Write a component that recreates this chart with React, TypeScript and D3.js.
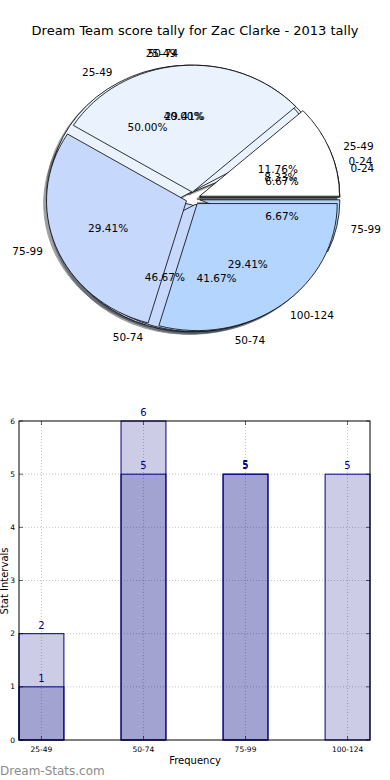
import React from "react";
import * as d3 from "d3";

// pie series (drawn bottom to top: C, B, A)
const pieALabels = ["25-49", "50-74", "75-99", "100-124"];
const pieAValues = [2, 5, 5, 5];
const pieBLabels = ["0-24", "25-49", "50-74"];
const pieBValues = [1, 6, 5];
const pieCLabels = ["0-24", "25-49", "50-74", "75-99"];
const pieCValues = [1, 6, 7, 1];
const pieColors = ["#ffffff", "#eaf2fe", "#c6d9fd", "#b3d5fe"];

// bar series
const barCategories = ["25-49", "50-74", "75-99", "100-124"];
const barSeriesA = [2, 5, 5, 5];
const barSeriesB = [1, 6, 5, 0];
const barTicks = [0, 1, 2, 3, 4, 5, 6];

const font = "'DejaVu Sans', sans-serif";
const navy = "#000080";

// pie geometry (matplotlib-like, unequal aspect)
const cx = 193;
const cy = 198.5;
const rx = 140;
const ry = 127;
const explode = 0.05;

const pieGen = d3
  .pie<number>()
  .sort(null)
  .startAngle(Math.PI / 2)
  .endAngle(Math.PI / 2 - 2 * Math.PI);
const unitArc = d3.arc<d3.PieArcDatum<number>>().innerRadius(0).outerRadius(1);

const layoutPie = (labels: string[], values: number[], key: string) => {
  const total = d3.sum(values);
  return pieGen(values).map((a, i) => {
    const theta = Math.PI / 2 - (a.startAngle + a.endAngle) / 2;
    const ox = cx + explode * rx * Math.cos(theta);
    const oy = cy - explode * ry * Math.sin(theta);
    return {
      key: `${key}-${i}`,
      d: unitArc(a) as string,
      ox,
      oy,
      color: pieColors[i],
      label: labels[i],
      lx: ox + 1.1 * rx * Math.cos(theta),
      ly: oy - 1.1 * ry * Math.sin(theta),
      px: ox + 0.6 * rx * Math.cos(theta),
      py: oy - 0.6 * ry * Math.sin(theta),
      left: Math.cos(theta) > 0,
      pct: ((values[i] / total) * 100).toFixed(2) + "%",
    };
  });
};

const shade = (c: string) => {
  const rgb = d3.rgb(c);
  return d3.rgb(rgb.r * 0.3, rgb.g * 0.3, rgb.b * 0.3).formatHex();
};

// bar geometry
const barW = 0.44;
const xB = d3.scaleLinear().domain([-barW / 2, 3 + barW / 2]).range([19, 370]);
const yB = d3.scaleLinear().domain([0, 6]).range([740, 421]);

const App = () => {
  const wedges = [
    ...layoutPie(pieCLabels, pieCValues, "c"),
    ...layoutPie(pieBLabels, pieBValues, "b"),
    ...layoutPie(pieALabels, pieAValues, "a"),
  ];

  const bars = [barSeriesA, barSeriesB].flatMap((s, si) =>
    s.map((v, i) => ({ key: `${si}-${i}`, i, v, si }))
  ).filter((b) => b.v > 0);

  const [x0, x1] = xB.range();
  const [yb, yt] = yB.range();

  return (
    <svg
      width={390}
      height={780}
      style={{ position: "absolute", left: 0, top: 0, background: "#fff" }}
      fontFamily={font}
    >
      <text x={195} y={30} textAnchor="middle" dominantBaseline="central" fontSize={13}>
        Dream Team score tally for Zac Clarke - 2013 tally
      </text>

      {/* shadows */}
      {wedges.map((w) => (
        <path
          key={"s" + w.key}
          d={w.d}
          transform={`translate(${w.ox - 0.02 * rx},${w.oy + 0.02 * ry}) scale(${rx},${ry})`}
          fill={shade(w.color)}
          stroke={shade(w.color)}
          strokeWidth={1}
          vectorEffect="non-scaling-stroke"
          opacity={0.5}
        />
      ))}
      {/* wedges */}
      {wedges.map((w) => (
        <path
          key={w.key}
          d={w.d}
          transform={`translate(${w.ox},${w.oy}) scale(${rx},${ry})`}
          fill={w.color}
          stroke="#000"
          strokeWidth={0.8}
          vectorEffect="non-scaling-stroke"
        />
      ))}
      {/* labels */}
      {wedges.map((w) => (
        <g key={"t" + w.key} fontSize={10.5}>
          <text x={w.lx} y={w.ly} textAnchor={w.left ? "start" : "end"} dominantBaseline="central">
            {w.label}
          </text>
          <text x={w.px} y={w.py} textAnchor="middle" dominantBaseline="central">
            {w.pct}
          </text>
        </g>
      ))}

      {/* bar chart grid */}
      {barTicks.slice(1, -1).map((t) => (
        <line
          key={"gy" + t}
          x1={x0}
          x2={x1}
          y1={yB(t)}
          y2={yB(t)}
          stroke="#000"
          strokeOpacity={0.3}
          strokeWidth={0.8}
          strokeDasharray="1,2"
        />
      ))}
      {barCategories.map((c, i) => (
        <line
          key={"gx" + c}
          x1={xB(i)}
          x2={xB(i)}
          y1={yb}
          y2={yt}
          stroke="#000"
          strokeOpacity={0.3}
          strokeWidth={0.8}
          strokeDasharray="1,2"
        />
      ))}

      {bars.map((b) => (
        <rect
          key={b.key}
          x={xB(b.i - barW / 2)}
          y={yB(b.v)}
          width={xB(barW) - xB(0)}
          height={yb - yB(b.v)}
          fill={navy}
          fillOpacity={0.2}
          stroke={navy}
          strokeWidth={1}
        />
      ))}
      {bars.map((b) => (
        <text
          key={"l" + b.key}
          x={xB(b.i)}
          y={yB(b.v) - 5 - (b.si === 1 && b.v === barSeriesA[b.i] ? 1.5 : 0)}
          textAnchor="middle"
          fontSize={10}
          fill={navy}
        >
          {b.v}
        </text>
      ))}

      {/* frame and ticks */}
      <rect x={x0} y={yt} width={x1 - x0} height={yb - yt} fill="none" stroke="#000" strokeWidth={1} />
      {barTicks.map((t) => (
        <g key={"ty" + t}>
          <line x1={x0} x2={x0 + 4} y1={yB(t)} y2={yB(t)} stroke="#000" strokeWidth={0.6} />
          <line x1={x1 - 4} x2={x1} y1={yB(t)} y2={yB(t)} stroke="#000" strokeWidth={0.6} />
          <text x={15} y={yB(t)} textAnchor="end" dominantBaseline="central" fontSize={7.5}>
            {t}
          </text>
        </g>
      ))}
      {barCategories.map((c, i) => (
        <g key={"tx" + c}>
          <line x1={xB(i)} x2={xB(i)} y1={yb} y2={yb - 4} stroke="#000" strokeWidth={0.6} />
          <line x1={xB(i)} x2={xB(i)} y1={yt} y2={yt + 4} stroke="#000" strokeWidth={0.6} />
          <text x={xB(i)} y={749} textAnchor="middle" dominantBaseline="central" fontSize={7.5}>
            {c}
          </text>
        </g>
      ))}
      <text x={195} y={760} textAnchor="middle" dominantBaseline="central" fontSize={10}>
        Frequency
      </text>
      <text
        transform="translate(4,581) rotate(-90)"
        textAnchor="middle"
        dominantBaseline="central"
        fontSize={10}
      >
        Stat Intervals
      </text>
      <text x={0} y={775} fontSize={12} fill="#8c8c8c">
        Dream-Stats.com
      </text>
    </svg>
  );
};

export default App;
